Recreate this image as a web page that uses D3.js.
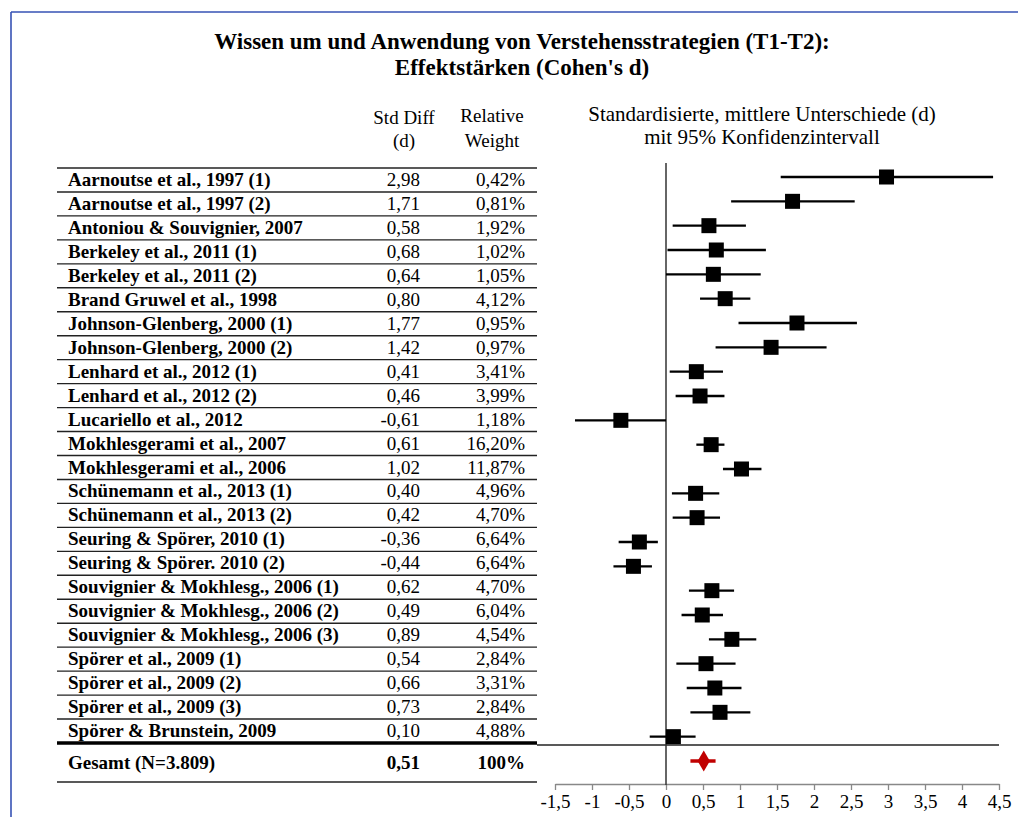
<!DOCTYPE html>
<html>
<head>
<meta charset="utf-8">
<script src="https://cdn.jsdelivr.net/npm/d3@7"></script>
<style>
  body { margin: 0; background: #fff; }
  svg { display: block; font-family: "Liberation Serif", "Times New Roman", serif; }
</style>
</head>
<body>
<svg id="chart" width="1018" height="817"></svg>
<script>
var studies = [
	"Aarnoutse et al., 1997 (1)", "Aarnoutse et al., 1997 (2)", "Antoniou & Souvignier, 2007",
	"Berkeley et al., 2011 (1)", "Berkeley et al., 2011 (2)", "Brand Gruwel et al., 1998",
	"Johnson-Glenberg, 2000 (1)", "Johnson-Glenberg, 2000 (2)", "Lenhard et al., 2012 (1)",
	"Lenhard et al., 2012 (2)", "Lucariello et al., 2012", "Mokhlesgerami et al., 2007",
	"Mokhlesgerami et al., 2006", "Schünemann et al., 2013 (1)", "Schünemann et al., 2013 (2)",
	"Seuring & Spörer, 2010 (1)", "Seuring & Spörer. 2010 (2)", "Souvignier & Mokhlesg., 2006 (1)",
	"Souvignier & Mokhlesg., 2006 (2)", "Souvignier & Mokhlesg., 2006 (3)", "Spörer et al., 2009 (1)",
	"Spörer et al., 2009 (2)", "Spörer et al., 2009 (3)", "Spörer & Brunstein, 2009"
];
var stdDiff = [2.98, 1.71, 0.58, 0.68, 0.64, 0.80, 1.77, 1.42, 0.41, 0.46, -0.61, 0.61,
	1.02, 0.40, 0.42, -0.36, -0.44, 0.62, 0.49, 0.89, 0.54, 0.66, 0.73, 0.10];
var weights = [0.42, 0.81, 1.92, 1.02, 1.05, 4.12, 0.95, 0.97, 3.41, 3.99, 1.18, 16.20,
	11.87, 4.96, 4.70, 6.64, 6.64, 4.70, 6.04, 4.54, 2.84, 3.31, 2.84, 4.88];
// 95% CI, estimated from the whiskers
var ciLower = [1.55, 0.88, 0.09, 0.02, 0.00, 0.46, 0.98, 0.67, 0.05, 0.13, -1.23, 0.41,
	0.77, 0.08, 0.09, -0.64, -0.71, 0.31, 0.21, 0.58, 0.14, 0.28, 0.33, -0.22];
var ciUpper = [4.42, 2.55, 1.08, 1.35, 1.28, 1.14, 2.58, 2.17, 0.77, 0.79, 0.00, 0.79,
	1.29, 0.72, 0.73, -0.11, -0.19, 0.92, 0.77, 1.22, 0.94, 1.02, 1.14, 0.40];

var totalLabel = "Gesamt (N=3.809)";
var totalD = 0.51, totalLower = 0.33, totalUpper = 0.67, totalWeight = 100;

var xTicks = [-1.5, -1, -0.5, 0, 0.5, 1, 1.5, 2, 2.5, 3, 3.5, 4, 4.5];

var de = d3.formatLocale({decimal: ",", thousands: ".", grouping: [3], currency: ["", " €"], minus: "-"});
var fmt2 = de.format(".2f");
var fmtTick = de.format("");

var data = studies.map(function(s, i) {
	return {key: s, d: stdDiff[i], w: weights[i], lo: ciLower[i], hi: ciUpper[i]};
});

var svg = d3.select("#chart");

// blue frame
svg.append("line").attr("x1", 11).attr("y1", 12).attr("x2", 1018).attr("y2", 12)
	.attr("stroke", "#3652b4").attr("stroke-width", 1.6);
svg.append("line").attr("x1", 11).attr("y1", 12).attr("x2", 11).attr("y2", 817)
	.attr("stroke", "#3652b4").attr("stroke-width", 1.6);

// title
svg.append("text").attr("x", 522).attr("y", 49).attr("text-anchor", "middle")
	.attr("font-weight", "bold").attr("font-size", 23)
	.text("Wissen um und Anwendung von Verstehensstrategien (T1-T2):");
svg.append("text").attr("x", 522).attr("y", 75).attr("text-anchor", "middle")
	.attr("font-weight", "bold").attr("font-size", 23)
	.text("Effektstärken (Cohen's d)");

// column headers
var head = svg.append("g").attr("font-size", 19).attr("text-anchor", "middle");
head.append("text").attr("x", 404).attr("y", 124).text("Std Diff");
head.append("text").attr("x", 404).attr("y", 147).text("(d)");
head.append("text").attr("x", 492).attr("y", 122).text("Relative");
head.append("text").attr("x", 492).attr("y", 147).text("Weight");
head.append("text").attr("x", 762).attr("y", 121).attr("font-size", 21).text("Standardisierte, mittlere Unterschiede (d)");
head.append("text").attr("x", 762).attr("y", 144).attr("font-size", 21).text("mit 95% Konfidenzintervall");

// table
var yRow = d3.scaleBand().domain(studies).range([168, 743]);
var table = svg.append("g");

table.selectAll(".sep")
	.data(studies)
  .enter().append("line")
	.attr("class", "sep")
	.attr("x1", 57).attr("x2", 537)
	.attr("y1", function(d) { return yRow(d); })
	.attr("y2", function(d) { return yRow(d); })
	.attr("stroke", "#222").attr("stroke-width", 1.4);

var rows = table.selectAll(".row")
	.data(data)
  .enter().append("g")
	.attr("class", "row")
	.attr("transform", function(d) { return "translate(0," + (yRow(d.key) + 18) + ")"; })
	.attr("font-size", 19);
rows.append("text").attr("x", 68).attr("font-weight", "bold").text(function(d) { return d.key; });
rows.append("text").attr("x", 420).attr("text-anchor", "end").text(function(d) { return fmt2(d.d); });
rows.append("text").attr("x", 525).attr("text-anchor", "end").text(function(d) { return fmt2(d.w) + "%"; });

// thick line under the studies, then the total row
table.append("line").attr("x1", 57).attr("x2", 537).attr("y1", 743).attr("y2", 743)
	.attr("stroke", "#000").attr("stroke-width", 3.5);
table.append("line").attr("x1", 57).attr("x2", 537).attr("y1", 782).attr("y2", 782)
	.attr("stroke", "#222").attr("stroke-width", 1.4);
var tot = table.append("g").attr("font-size", 19).attr("font-weight", "bold")
	.attr("transform", "translate(0,769)");
tot.append("text").attr("x", 68).text(totalLabel);
tot.append("text").attr("x", 420).attr("text-anchor", "end").text(fmt2(totalD));
tot.append("text").attr("x", 525).attr("text-anchor", "end").text(totalWeight + "%");

// forest plot
var x = d3.scaleLinear().domain([-1.5, 4.5]).range([555, 999]);
var yPlot = d3.scalePoint().domain(studies.concat([totalLabel])).range([177, 761]);
var plot = svg.append("g");

plot.append("line").attr("x1", 537).attr("x2", 999).attr("y1", 745).attr("y2", 745)
	.attr("stroke", "#222").attr("stroke-width", 1.3);

var axis = plot.append("g")
	.attr("transform", "translate(0,784)")
	.call(d3.axisBottom(x).tickValues(xTicks).tickSize(6).tickSizeOuter(0).tickFormat(fmtTick));
axis.select(".domain").attr("stroke", "#888").attr("stroke-width", 1.3);
axis.selectAll(".tick line").attr("stroke", "#888").attr("stroke-width", 1.3);
axis.selectAll(".tick text").attr("font-family", "Liberation Serif, Times New Roman, serif")
	.attr("font-size", 19).attr("fill", "#000").attr("y", 9).attr("dy", "0.8em");

plot.append("line").attr("x1", x(0)).attr("x2", x(0)).attr("y1", 163).attr("y2", 785)
	.attr("stroke", "#333").attr("stroke-width", 1.5);

plot.selectAll(".ci")
	.data(data)
  .enter().append("line")
	.attr("class", "ci")
	.attr("x1", function(d) { return x(d.lo); })
	.attr("x2", function(d) { return x(d.hi); })
	.attr("y1", function(d) { return yPlot(d.key); })
	.attr("y2", function(d) { return yPlot(d.key); })
	.attr("stroke", "#000").attr("stroke-width", 2.3);

var sq = 15;
plot.selectAll(".pt")
	.data(data)
  .enter().append("rect")
	.attr("class", "pt")
	.attr("x", function(d) { return x(d.d) - sq / 2; })
	.attr("y", function(d) { return yPlot(d.key) - sq / 2; })
	.attr("width", sq).attr("height", sq)
	.attr("fill", "#000");

// pooled estimate
var ty = yPlot(totalLabel);
plot.append("line").attr("x1", x(totalLower)).attr("x2", x(totalUpper)).attr("y1", ty).attr("y2", ty)
	.attr("stroke", "#c00000").attr("stroke-width", 3.5);
plot.append("path")
	.attr("d", d3.symbol().type(d3.symbolDiamond).size(130))
	.attr("transform", "translate(" + x(totalD) + "," + ty + ")")
	.attr("fill", "#c00000");
</script>
</body>
</html>
